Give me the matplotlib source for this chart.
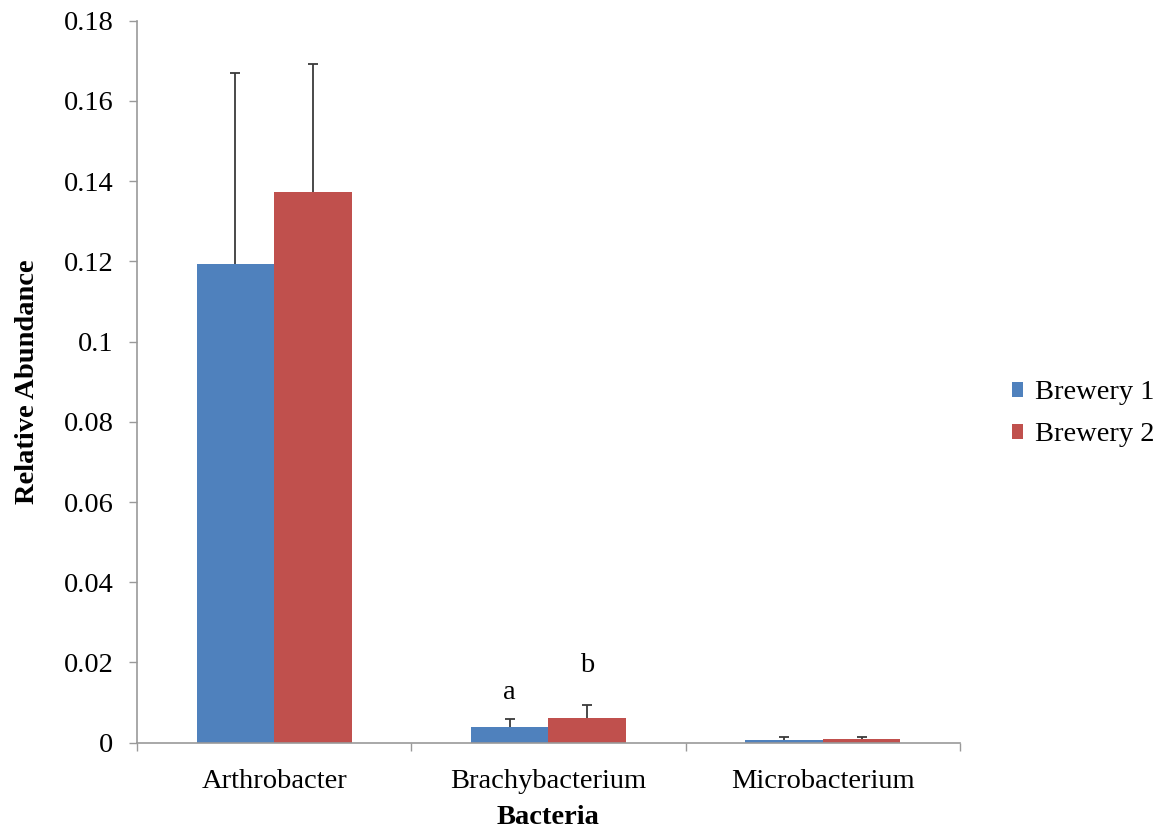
import matplotlib
matplotlib.use("Agg")
import matplotlib.pyplot as plt
import numpy as np

categories = ["Arthrobacter", "Brachybacterium", "Microbacterium"]
series_names = ["Brewery 1", "Brewery 2"]
brewery1 = [0.1193, 0.0038, 0.00075]
brewery2 = [0.1374, 0.0061, 0.0010]
brewery1_err = [0.0478, 0.0021, 0.00075]
brewery2_err = [0.0317, 0.0033, 0.0005]
# significance letters: (category index, series index, letter, y position)
letters = [(1, 0, "a", 0.0126), (1, 1, "b", 0.0193)]
yticks = [0, 0.02, 0.04, 0.06, 0.08, 0.1, 0.12, 0.14, 0.16, 0.18]
ytick_labels = ["0", "0.02", "0.04", "0.06", "0.08", "0.1", "0.12", "0.14", "0.16", "0.18"]

colors = ["#4F81BD", "#C0504D"]
plt.rcParams["font.family"] = ["Liberation Serif", "DejaVu Serif"]
FS = 20.5

fig = plt.figure(figsize=(11.64, 8.31), dpi=100)
ax = fig.add_axes([0.1177, 0.1063, 0.707, 0.8687])

x = np.arange(len(categories))
w = 0.283
err_kw = dict(ecolor="#3a3a3a", elinewidth=1.3, capsize=3.3, capthick=1.3)
bars = []
for k, (vals, errs) in enumerate([(brewery1, brewery1_err), (brewery2, brewery2_err)]):
    offs = (k - 0.5) * w
    b = ax.bar(x + offs, vals, w, color=colors[k], label=series_names[k],
               yerr=[np.zeros(len(vals)), errs], error_kw=err_kw, zorder=2)
    # keep only the upper caps
    caplines = b.errorbar.lines[1]
    if len(caplines) > 1:
        caplines[0].set_visible(False)
    bars.append(b)

for ci, si, letter, yv in letters:
    ax.text(x[ci] + (si - 0.5) * w, yv, letter, ha="center", va="center",
            fontsize=FS)

ax.set_xlim(-0.5, 2.5)
ax.set_ylim(0, 0.18)
ax.set_yticks(yticks)
ax.set_yticklabels(ytick_labels, fontsize=FS)
ax.set_xticks(x)
ax.set_xticklabels(categories, fontsize=FS)
ax.set_xticks([-0.5, 0.5, 1.5, 2.5], minor=True)
ax.tick_params(axis="x", which="major", length=0, pad=19)
ax.tick_params(axis="x", which="minor", length=6, color="#999999", width=1)
ax.tick_params(axis="y", length=6, color="#999999", width=1, pad=11)

for side in ["top", "right"]:
    ax.spines[side].set_visible(False)
for side in ["left", "bottom"]:
    ax.spines[side].set_color("#999999")
    ax.spines[side].set_linewidth(1.2)

ax.set_xlabel("Bacteria", fontsize=FS, fontweight="bold", labelpad=8)
ax.set_ylabel("Relative Abundance", fontsize=FS, fontweight="bold", labelpad=17)

fig.legend(handles=bars, labels=series_names, loc="center left",
           bbox_to_anchor=(0.847, 0.502), frameon=False, fontsize=FS,
           handlelength=0.42, handleheight=0.42, handletextpad=0.4,
           labelspacing=0.6)

fig.savefig("out.png", dpi=100)
